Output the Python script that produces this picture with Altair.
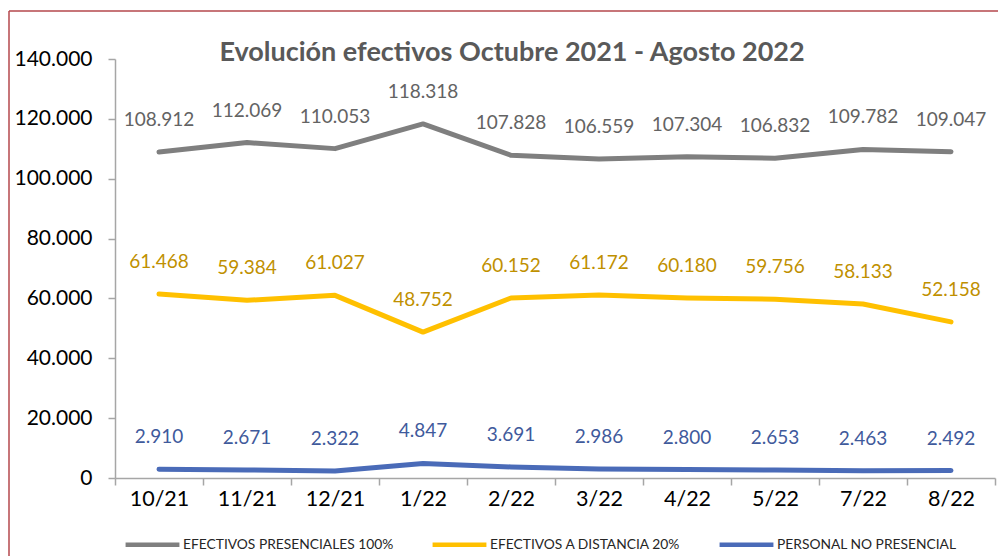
import altair as alt
import pandas as pd

months = ["10/21", "11/21", "12/21", "1/22", "2/22", "3/22", "4/22", "5/22", "7/22", "8/22"]
presenciales = [108912, 112069, 110053, 118318, 107828, 106559, 107304, 106832, 109782, 109047]
distancia = [61468, 59384, 61027, 48752, 60152, 61172, 60180, 59756, 58133, 52158]
no_presencial = [2910, 2671, 2322, 4847, 3691, 2986, 2800, 2653, 2463, 2492]
series_names = ["EFECTIVOS PRESENCIALES 100%", "EFECTIVOS A DISTANCIA 20%", "PERSONAL NO PRESENCIAL"]
y_ticks = [0, 20000, 40000, 60000, 80000, 100000, 120000, 140000]

rows = []
for name, vals in zip(series_names, [presenciales, distancia, no_presencial]):
    for m, v in zip(months, vals):
        rows.append({"mes": m, "serie": name, "valor": v})
df = pd.DataFrame(rows)

line_colors = ["#7F7F7F", "#FFC000", "#4A6BB8"]
label_colors = ["#636363", "#BF9000", "#3F5A9C"]
FONT = "Lato"

x_enc = alt.X(
    "mes:N",
    sort=months,
    scale=alt.Scale(type="band", paddingInner=0, paddingOuter=0),
    axis=alt.Axis(
        title=None, labelAngle=0, labelFontSize=21.5, labelColor="#000000", labelFont=FONT,
        tickBand="extent", tickSize=7, tickColor="#A6A6A6", domainColor="#A6A6A6",
        domainWidth=1.5, tickWidth=1.5, labelPadding=3, grid=False,
    ),
)
y_enc = alt.Y(
    "valor:Q",
    scale=alt.Scale(domain=[0, 140000], nice=False),
    axis=alt.Axis(
        title=None, values=y_ticks, format=",.0f", labelFontSize=21, labelColor="#000000",
        labelFont=FONT, tickSize=7, tickColor="#A6A6A6", domainColor="#A6A6A6",
        domainWidth=1.5, tickWidth=1.5, labelPadding=16, grid=False,
    ),
)

base = alt.Chart(df)

lines = base.mark_line(strokeWidth=5, strokeCap="round", strokeJoin="round").encode(
    x=x_enc,
    y=y_enc,
    color=alt.Color(
        "serie:N",
        scale=alt.Scale(domain=series_names, range=line_colors),
        legend=alt.Legend(
            title=None, orient="none", legendX=8, legendY=456, direction="horizontal",
            symbolType="stroke", symbolSize=2900, symbolStrokeWidth=4.5,
            labelFontSize=13.8, labelFont=FONT, labelColor="#262626", labelOffset=1,
            columnPadding=29, labelLimit=400,
        ),
    ),
)

labels = base.mark_text(fontSize=19, font=FONT, baseline="middle", dy=-32).encode(
    x=alt.X("mes:N", sort=months),
    y=alt.Y("valor:Q"),
    text=alt.Text("valor:Q", format=",.0f"),
    color=alt.Color(
        "serie:N",
        scale=alt.Scale(domain=series_names, range=label_colors),
        legend=None,
    ),
)

frame_data = alt.Data(values=[{"k": 1}])
frame_left = alt.Chart(frame_data).mark_rule(color="#B5474C", strokeWidth=1.5).encode(
    x=alt.value(-106), y=alt.value(-48), y2=alt.value(520)
)
frame_top = alt.Chart(frame_data).mark_rule(color="#B5474C", strokeWidth=1.5).encode(
    x=alt.value(-106), x2=alt.value(900), y=alt.value(-48)
)

chart = (
    alt.layer(lines, labels, frame_left, frame_top)
    .resolve_scale(color="independent")
    .properties(
        width=880,
        height=419,
        autosize=alt.AutoSizeParams(type="none"),
        padding={"left": 107, "top": 51, "right": 3, "bottom": 78},
        title=alt.TitleParams(
            text="Evolución efectivos Octubre 2021 - Agosto 2022",
            fontSize=27, font=FONT, fontWeight="bold", color="#595959",
            anchor="middle", frame="group", dx=-43, offset=0, dy=57,
        ),
    )
    .configure(locale={"number": {"decimal": ",", "thousands": ".", "grouping": [3], "currency": ["", " €"]}})
    .configure_view(stroke=None)
)

chart.save("out.html", embed_options={"renderer": "svg", "actions": False})
